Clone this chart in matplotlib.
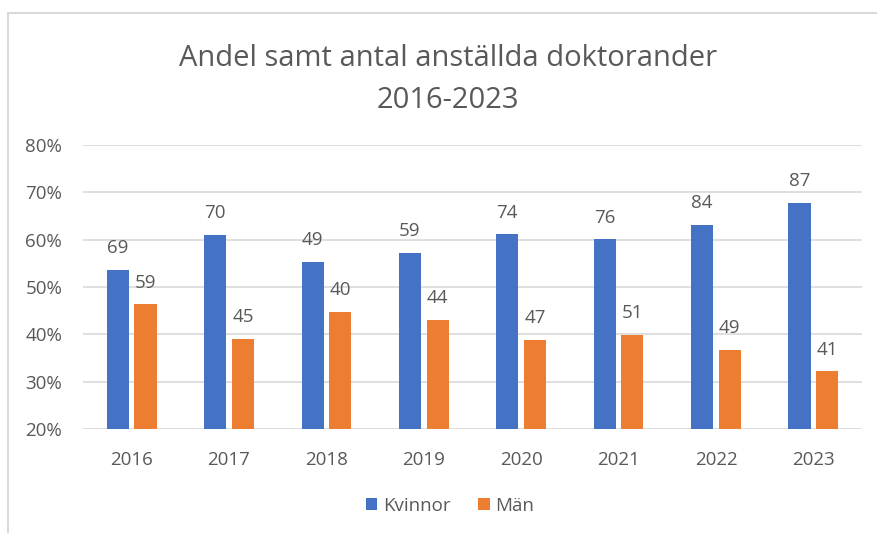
import matplotlib
matplotlib.use('Agg')
import matplotlib.pyplot as plt
import numpy as np
from matplotlib.patches import Rectangle

# --- data ---
years = ['2016', '2017', '2018', '2019', '2020', '2021', '2022', '2023']
kvinnor_pct = [53.6, 61.0, 55.3, 57.2, 61.1, 60.1, 63.2, 67.8]
man_pct = [46.4, 39.1, 44.8, 43.1, 38.9, 39.9, 36.7, 32.2]
kvinnor_n = [69, 70, 49, 59, 74, 76, 84, 87]
man_n = [59, 45, 40, 44, 47, 51, 49, 41]
yticks = [20, 30, 40, 50, 60, 70, 80]

BLUE = '#4472C4'
ORANGE = '#ED7D31'
GRAY = '#595959'
GRID = '#D9D9D9'

plt.rcParams['font.family'] = ['Open Sans', 'DejaVu Sans']

fig = plt.figure(figsize=(8.77, 5.33), dpi=100)
ax = fig.add_axes([83 / 877, 1 - 429 / 533, (862 - 83) / 877, (429 - 145) / 533])

x = np.arange(len(years))
w = 0.227
off = 0.142
b1 = ax.bar(x - off, [v - 20 for v in kvinnor_pct], w, bottom=20, color=BLUE, label='Kvinnor', zorder=3)
b2 = ax.bar(x + off, [v - 20 for v in man_pct], w, bottom=20, color=ORANGE, label='Män', zorder=3)

for xi, v, n in zip(x, kvinnor_pct, kvinnor_n):
    ax.annotate(str(n), (xi - off, v), xytext=(0, 9), textcoords='offset points',
                ha='center', va='bottom', fontsize=13.5, color=GRAY)
for xi, v, n in zip(x, man_pct, man_n):
    ax.annotate(str(n), (xi + off, v), xytext=(0, 9), textcoords='offset points',
                ha='center', va='bottom', fontsize=13.5, color=GRAY)

ax.set_xlim(-0.5, 7.5)
ax.set_ylim(20, 80)
ax.set_yticks(yticks)
ax.set_yticklabels([f'{t}%' for t in yticks])
ax.set_xticks(x)
ax.set_xticklabels(years)
ax.tick_params(axis='both', length=0, labelsize=13.5, colors=GRAY)
ax.tick_params(axis='y', pad=15)
ax.tick_params(axis='x', pad=16)
ax.grid(axis='y', color=GRID, linewidth=1.2, zorder=0)
for s in ax.spines.values():
    s.set_visible(False)

fig.text(448 / 877, 1 - 59 / 533, 'Andel samt antal anställda doktorander',
         ha='center', va='center', fontsize=21, color=GRAY)
fig.text(448 / 877, 1 - 101 / 533, '2016-2023',
         ha='center', va='center', fontsize=21, color=GRAY)

fig.legend(handles=[b1, b2], loc='center', bbox_to_anchor=(450 / 877, 1 - 506 / 533),
           ncol=2, frameon=False, fontsize=13.5, labelcolor=GRAY,
           handlelength=0.6, handleheight=0.6, handletextpad=0.3, columnspacing=1.5)

# chart border (only top and left edges are visible in the crop)
fig.patches.append(Rectangle((8 / 877, -0.1), 1.2, 1 - 13 / 533 + 0.1, transform=fig.transFigure,
                             fill=False, edgecolor='#D9D9D9', linewidth=1.5))

fig.savefig('out.png', dpi=100)
